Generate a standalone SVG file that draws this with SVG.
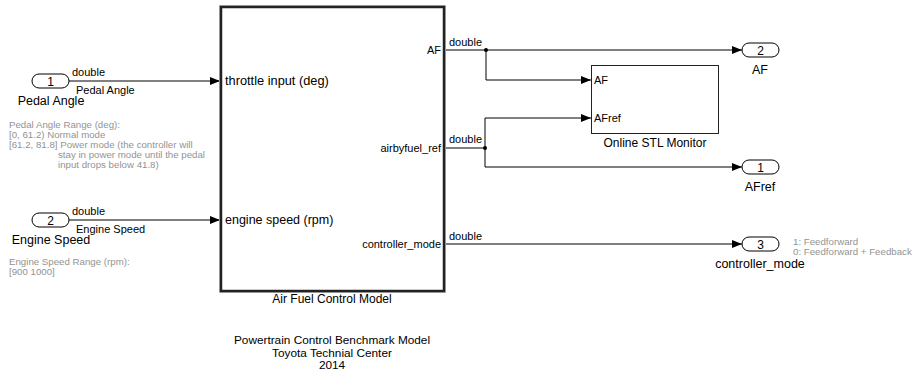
<svg xmlns="http://www.w3.org/2000/svg" width="917" height="374" viewBox="0 0 917 374">
<style>
text{font-family:"Liberation Sans",Arial,sans-serif;fill:#000}
.s{font-size:11px}
.i{font-size:12.8px}
.b{font-size:12.5px}
.n{font-size:12px}
.t{font-size:11.8px}
.g{font-size:9.7px;fill:#939393}
.w{stroke:#000;stroke-width:1;fill:none}
.port{fill:#fff;stroke:#000;stroke-width:1}
.blk{fill:#fff;stroke:#222;stroke-width:1}
</style>
<defs>
<marker id="ah" markerWidth="10" markerHeight="8" refX="10" refY="4" orient="auto" markerUnits="userSpaceOnUse">
<path d="M0,0 L10,4 L0,8 Z" fill="#000"/>
</marker>
</defs>
<g id="connectors">
<path class="w" d="M69,81 H220" marker-end="url(#ah)"/>
<path class="w" d="M69,220 H220" marker-end="url(#ah)"/>
<path class="w" d="M445,50 H742" marker-end="url(#ah)"/>
<path class="w" d="M486,50 V80 H591" marker-end="url(#ah)"/>
<path class="w" d="M445,148 H485 V118 H591" marker-end="url(#ah)"/>
<path class="w" d="M485,148 V167 H742" marker-end="url(#ah)"/>
<path class="w" d="M445,244 H742" marker-end="url(#ah)"/>
<circle cx="486" cy="50" r="2" fill="#000"/>
<circle cx="485" cy="148" r="2" fill="#000"/>
<text class="s" x="72" y="76">double</text>
<text class="s" x="76" y="94">Pedal Angle</text>
<text class="s" x="72" y="215">double</text>
<text class="s" x="76" y="233">Engine Speed</text>
<text class="s" x="449" y="46">double</text>
<text class="s" x="449" y="143">double</text>
<text class="s" x="449" y="240">double</text>
</g>
<g id="in1">
<rect class="port" x="32" y="74" width="37" height="14" rx="7"/>
<text class="n" x="50.5" y="85.5" text-anchor="middle">1</text>
<text class="b" x="51" y="105" text-anchor="middle">Pedal Angle</text>
</g>
<g id="in2">
<rect class="port" x="32" y="213" width="37" height="14" rx="7"/>
<text class="n" x="50.5" y="224.5" text-anchor="middle">2</text>
<text class="b" x="51" y="244" text-anchor="middle">Engine Speed</text>
</g>
<g id="note-pedal">
<text class="g" x="9" y="128">Pedal Angle Range (deg):</text>
<text class="g" x="9" y="138">[0, 61.2) Normal mode</text>
<text class="g" x="9" y="148">[61.2, 81.8] Power mode (the controller will</text>
<text class="g" x="58" y="158">stay in power mode until the pedal</text>
<text class="g" x="58" y="168">input drops below 41.8)</text>
</g>
<g id="note-engine">
<text class="g" x="9" y="265">Engine Speed Range (rpm):</text>
<text class="g" x="9" y="275">[900 1000]</text>
</g>
<g id="afcm">
<rect x="219.5" y="5.5" width="226" height="287" fill="none" stroke="#bbb" stroke-width="1"/>
<rect x="221" y="7" width="223" height="284" fill="#fff" stroke="#222" stroke-width="2.5"/>
<text class="i" x="225" y="85">throttle input (deg)</text>
<text class="b" x="225" y="224">engine speed (rpm)</text>
<text class="s" x="441" y="54" text-anchor="end">AF</text>
<text class="s" x="441" y="152" text-anchor="end">airbyfuel_ref</text>
<text class="s" x="441" y="248" text-anchor="end">controller_mode</text>
<text class="n" x="332" y="303" text-anchor="middle">Air Fuel Control Model</text>
</g>
<g id="stl">
<rect class="blk" x="591.5" y="65.5" width="127" height="68"/>
<text class="s" x="594" y="84">AF</text>
<text class="s" x="594" y="122">AFref</text>
<text class="n" x="655" y="147" text-anchor="middle">Online STL Monitor</text>
</g>
<g id="out2">
<rect class="port" x="742" y="43" width="37" height="14" rx="7"/>
<text class="n" x="760.5" y="54.5" text-anchor="middle">2</text>
<text class="b" x="760" y="74" text-anchor="middle">AF</text>
</g>
<g id="out1">
<rect class="port" x="742" y="160" width="37" height="14" rx="7"/>
<text class="n" x="760.5" y="171.5" text-anchor="middle">1</text>
<text class="b" x="760" y="191" text-anchor="middle">AFref</text>
</g>
<g id="out3">
<rect class="port" x="742" y="237" width="37" height="14" rx="7"/>
<text class="n" x="760.5" y="248.5" text-anchor="middle">3</text>
<text class="b" x="760" y="268" text-anchor="middle">controller_mode</text>
</g>
<g id="note-mode">
<text class="g" x="793" y="245">1: Feedforward</text>
<text class="g" x="793" y="255">0: Feedforward + Feedback</text>
</g>
<g id="title">
<text class="t" x="332" y="344" text-anchor="middle">Powertrain Control Benchmark Model</text>
<text class="t" x="332" y="356.5" text-anchor="middle">Toyota Technial Center</text>
<text class="t" x="332" y="369" text-anchor="middle">2014</text>
</g>
</svg>
